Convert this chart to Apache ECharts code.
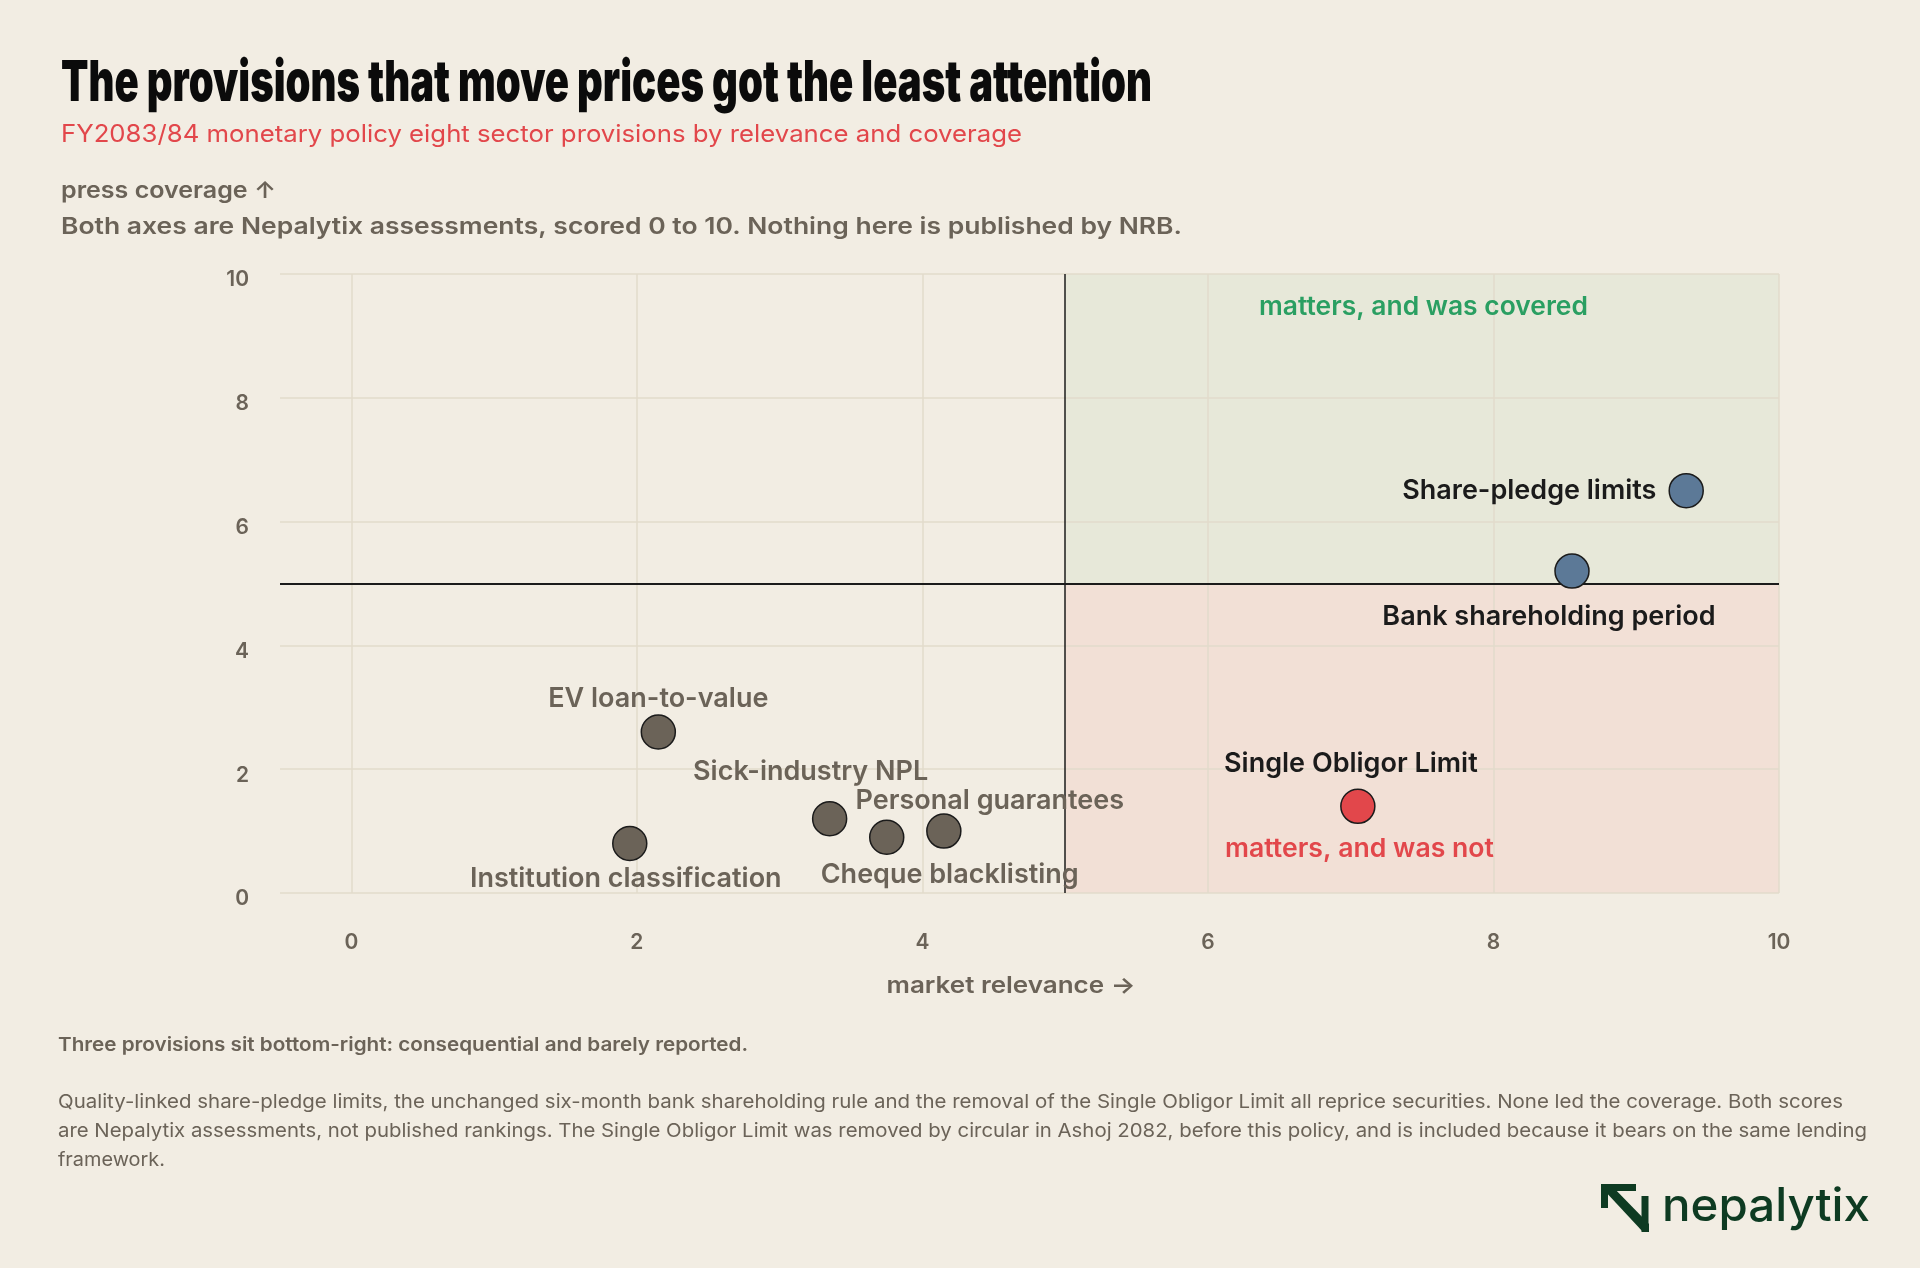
<!DOCTYPE html>
<html>
<head>
<meta charset="utf-8">
<script src="https://cdn.jsdelivr.net/npm/echarts@6/dist/echarts.min.js"></script>
<style>
html,body{margin:0;padding:0;background:#f2ede3;}
#c{width:1920px;height:1268px;}
</style>
</head>
<body>
<div id="c"></div>
<script>
// ---- data ----
const names = ["Share-pledge limits","Bank shareholding period","Single Obligor Limit","EV loan-to-value","Institution classification","Sick-industry NPL","Cheque blacklisting","Personal guarantees"];
const relevance = [9.35, 8.55, 7.05, 2.15, 1.95, 3.35, 3.75, 4.15];
const coverage  = [6.5, 5.2, 1.4, 2.6, 0.8, 1.2, 0.9, 1.0];
const groups    = ["covered","covered","missed","low","low","low","low","low"];
const xTicks = [0,2,4,6,8,10];
const yTicks = [0,2,4,6,8,10];
const split = 5;
const titleText = "The provisions that move prices got the least attention";
const subtitleText = "FY2083/84 monetary policy eight sector provisions by relevance and coverage";
const yNameText = "press coverage \u2191";
const noteText = "Both axes are Nepalytix assessments, scored 0 to 10. Nothing here is published by NRB.";
const xNameText = "market relevance \u2192";
const coveredText = "matters, and was covered";
const missedText = "matters, and was not";
const footBold = "Three provisions sit bottom-right: consequential and barely reported.";
const footLines = [
 "Quality-linked share-pledge limits, the unchanged six-month bank shareholding rule and the removal of the Single Obligor Limit all reprice securities. None led the coverage. Both scores",
 "are Nepalytix assessments, not published rankings. The Single Obligor Limit was removed by circular in Ashoj 2082, before this policy, and is included because it bears on the same lending",
 "framework."
];
const brand = "nepalytix";

// ---- styles ----
const C = {bg:'#f2ede3', grid:'#e2dbcb', ink:'#1b1b1b', gray:'#6b6358', red:'#e2474b', green:'#2a9f62',
  blue:'#5c7997', dot:'#6b6358', areaG:'#e7e8d9', areaR:'#f2e0d6', logo:'#0e3b22'};
const groupLabel = {covered:C.ink, missed:C.ink, low:C.gray};
const labelPlace = {
 "Share-pledge limits": {position:'left', distance:12},
 "Bank shareholding period": {offset:[-23,46]},
 "Single Obligor Limit": {offset:[-7,-42]},
 "EV loan-to-value": {offset:[0,-33]},
 "Institution classification": {offset:[-4,35]},
 "Sick-industry NPL": {offset:[-19,-47]},
 "Cheque blacklisting": {offset:[63,38]},
 "Personal guarantees": {offset:[46,-30]}
};
const FF = 'Inter, Roboto, sans-serif';

const mctx = document.createElement('canvas').getContext('2d');
function fitScale(text, font, w){ mctx.font = font; return w / mctx.measureText(text).width; }
function txt(text, x, y, font, color, width, align){
  const s = width ? fitScale(text, font, width) : 1;
  return {type:'text', x:x, y:y, z:100, scaleX:s, silent:true,
    style:{text:text, font:font, fill:color, align:align||'left', verticalAlign:'middle',
      textAlign:align||'left', textVerticalAlign:'middle'}};
}

function makeItems(g){
  const out = [];
  names.forEach((n,i)=>{
    if(groups[i]!==g) return;
    const p = labelPlace[n];
    const lab = {show:true, formatter:n, color:groupLabel[g], fontFamily:FF, fontWeight:600, fontSize:27};
    if(p.position){ lab.position=p.position; lab.distance=p.distance; }
    else { lab.position='inside'; lab.offset=p.offset; lab.align='center'; lab.verticalAlign='middle'; }
    out.push({name:n, value:[relevance[i], coverage[i]], label:lab});
  });
  return out;
}

const tickFont = {color:C.gray, fontFamily:FF, fontWeight:600, fontSize:21};
const chart = echarts.init(document.getElementById('c'), null, {renderer:'canvas'});
const option = {
  backgroundColor: C.bg,
  animation:false,
  grid:{left:280, right:141, top:274, bottom:375, containLabel:false, outerBoundsMode:'none'},
  xAxis:{type:'value', min:-0.5, max:10, interval:0.5,
    axisLine:{show:false}, axisTick:{show:false}, splitLine:{show:false},
    axisLabel:Object.assign({margin:39, showMinLabel:true, showMaxLabel:true,
      formatter:v=> xTicks.indexOf(Math.round(v*100)/100)>=0 ? String(v) : ''}, tickFont)},
  yAxis:{type:'value', min:0, max:10, interval:2,
    axisLine:{show:false}, axisTick:{show:false}, splitLine:{show:false},
    axisLabel:Object.assign({margin:31, formatter:v=>'{a|'+v+'}',
      rich:{a:Object.assign({padding:[12,0,0,0]}, tickFont)}}, tickFont)},
  series:[
    {type:'scatter', data:[], z:1, silent:true,
     markArea:{silent:true, data:[
       [{xAxis:split, yAxis:split, itemStyle:{color:C.areaG}},{xAxis:10, yAxis:10}],
       [{xAxis:split, yAxis:0, itemStyle:{color:C.areaR}},{xAxis:10, yAxis:split}]
     ]}},
    {type:'scatter', data:[], z:2, silent:true,
     markLine:{silent:true, symbol:['none','none'], label:{show:false},
       lineStyle:{color:C.grid, width:1.5, type:'solid'},
       data: xTicks.map(v=>({xAxis:v})).concat(yTicks.map(v=>({yAxis:v})))}},
    {type:'scatter', data:[], z:3, silent:true,
     markLine:{silent:true, symbol:['none','none'], label:{show:false},
       data:[{xAxis:split, lineStyle:{color:C.ink, width:1.5, type:'solid'}},
             {yAxis:split, lineStyle:{color:C.ink, width:2, type:'solid'}}]}},
    {type:'scatter', z:5, symbolSize:34, data:makeItems('low'),
     itemStyle:{color:C.dot, borderColor:C.ink, borderWidth:1.5, opacity:1}},
    {type:'scatter', z:5, symbolSize:34, data:makeItems('covered'),
     itemStyle:{color:C.blue, borderColor:C.ink, borderWidth:1.5, opacity:1}},
    {type:'scatter', z:5, symbolSize:34, data:makeItems('missed'),
     itemStyle:{color:C.red, borderColor:C.ink, borderWidth:1.5, opacity:1}}
  ],
  graphic:[
    txt(titleText, 61, 84, '900 57px '+FF, '#0b0b0b', 1091),
    txt(subtitleText, 61, 135, '400 24px '+FF, C.red, 961),
    txt(yNameText, 61, 191, '600 23px '+FF, C.gray, 215),
    txt(noteText, 61, 227, '600 23px '+FF, C.gray, 1121),
    txt(xNameText, 1011, 986, '600 23px '+FF, C.gray, 249, 'center'),
    txt(coveredText, 1259, 307, '600 26px '+FF, C.green, 329),
    txt(missedText, 1225, 849, '600 26px '+FF, C.red, 269),
    txt(footBold, 58, 1045, '600 19px '+FF, C.gray, 690),
    txt(footLines[0], 58, 1102, '400 19px '+FF, C.gray, 1785),
    txt(footLines[1], 58, 1131, '400 19px '+FF, C.gray, 1809),
    txt(footLines[2], 58, 1160, '400 19px '+FF, C.gray, 107),
    // logo mark
    {type:'polygon', z:100, silent:true, shape:{points:[[1601,1184],[1636,1184],[1636,1191],[1608,1191],[1608,1208],[1601,1208]]}, style:{fill:C.logo}},
    {type:'polygon', z:100, silent:true, shape:{points:[[1603,1189],[1610,1184],[1649,1224],[1649,1232],[1643,1232]]}, style:{fill:C.logo}},
    {type:'rect', z:100, silent:true, shape:{x:1641.5, y:1196, width:7, height:36}, style:{fill:C.logo}},
    txt(brand, 1662, 1207, '500 46px '+FF, C.logo, 208)
  ]
};
chart.setOption(option);
</script>
</body>
</html>
